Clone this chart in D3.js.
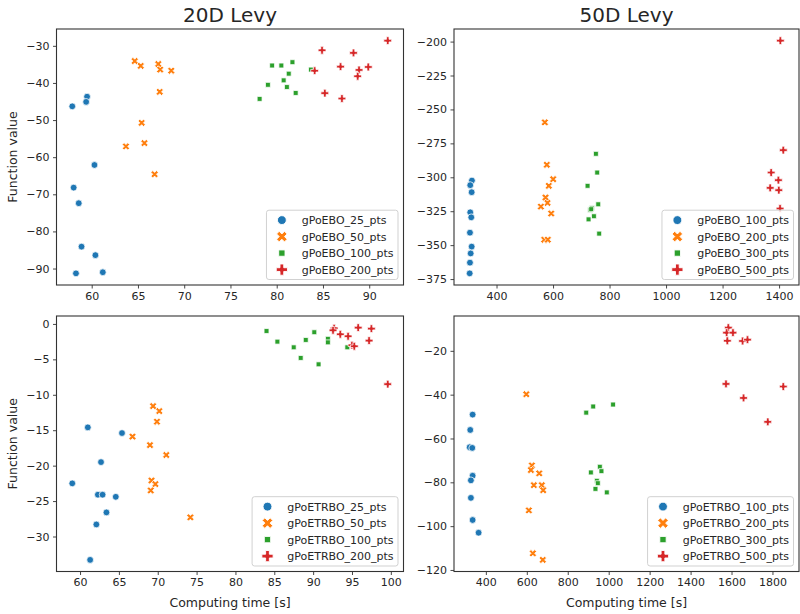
<!DOCTYPE html>
<html>
<head>
<meta charset="utf-8">
<script src="https://cdn.jsdelivr.net/npm/d3@7"></script>
<style>
  body { margin: 0; background: #fff; }
  text { font-family: "DejaVu Sans", sans-serif; fill: #262626; }
</style>
</head>
<body>
<div id="chart"></div>
<script>
// ---- data: [computing time (s), function value] per run ----
var ebo20_25 = [[59.5,-43.7],[59.4,-45.1],[57.9,-46.3],[60.3,-62.1],[58.05,-68.2],[58.6,-72.4],[58.9,-84.1],[60.4,-86.4],[58.3,-91.3],[61.2,-91.0]];
var ebo20_50 = [[64.65,-34.1],[65.3,-35.4],[67.2,-34.9],[67.4,-36.4],[68.6,-36.7],[67.35,-42.4],[65.4,-50.75],[63.7,-57.1],[65.7,-56.2],[66.8,-64.6]];
var ebo20_100 = [[79.5,-35.3],[80.5,-35.3],[81.7,-34.4],[81.3,-37.5],[80.75,-39.3],[79.05,-40.5],[81.1,-41.1],[82.05,-42.7],[78.15,-44.3],[83.7,-36.4]];
var ebo20_200 = [[84.9,-31.2],[88.3,-31.9],[92.0,-28.6],[84.1,-36.7],[86.9,-35.6],[88.9,-36.5],[89.9,-35.7],[88.75,-38.2],[85.2,-42.75],[87.05,-44.2]];

var ebo50_100 = [[313,-302.4],[307,-305.8],[312,-311],[307,-325.8],[310.6,-329.5],[306,-340.8],[312,-351.1],[308.5,-356.1],[306,-362.9],[305,-370.8]];
var ebo50_200 = [[571,-259.5],[578,-290.8],[600.5,-301.4],[585,-306.3],[573.4,-314.9],[580.4,-318.9],[557,-321.6],[593.5,-326.7],[569,-346],[581.5,-346]];
var ebo50_300 = [[751.7,-282.7],[756.3,-296.5],[722.2,-306.3],[760,-319.9],[737.7,-322.6],[731.7,-324.1],[744.7,-328.7],[725.7,-331],[763.3,-341.5],[735,-323.5]];
var ebo50_500 = [[1404.6,-199.3],[1415,-280],[1372,-296.5],[1397.6,-302.1],[1368.5,-307.8],[1399,-309.5],[1403.5,-323]];

var etr20_25 = [[61.0,-14.6],[65.4,-15.4],[62.7,-19.5],[59.0,-22.5],[62.3,-24.1],[62.9,-24.1],[64.6,-24.4],[63.4,-26.6],[62.1,-28.3],[61.3,-33.3]];
var etr20_50 = [[69.4,-11.6],[70.2,-12.3],[69.9,-13.8],[66.75,-15.9],[69.0,-17.1],[71.1,-18.5],[69.2,-22.1],[69.7,-22.6],[69.1,-23.5],[74.2,-27.3]];
var etr20_100 = [[84.0,-1.0],[85.4,-2.5],[87.5,-3.3],[88.4,-4.8],[89.05,-2.26],[90.15,-1.17],[90.7,-5.7],[91.9,-2.1],[91.9,-2.6],[94.4,-3.3]];
var etr20_200 = [[92.7,-0.6],[92.56,-0.9],[93.5,-1.46],[94.5,-1.74],[95.8,-0.52],[97.5,-0.66],[97.2,-2.35],[95.0,-3.0],[95.3,-3.15],[99.6,-8.5]];

var etr50_100 = [[335.4,-49.1],[323.8,-56.1],[321,-64],[333.5,-64.3],[335.4,-77.0],[327,-79.1],[327,-87.1],[335.4,-97.2],[364.6,-103]];
var etr50_200 = [[597.6,-39.8],[624.8,-72.3],[620,-74.4],[660.7,-75.9],[634.5,-81.3],[673.3,-81.3],[680,-83.6],[610,-92.8],[629.6,-112.4],[678,-115.4]];
var etr50_300 = [[890.3,-48.2],[924.3,-45.4],[1021.4,-44.5],[913,-75.5],[956.8,-72.9],[964.6,-74.9],[942.2,-79.3],[947,-80.4],[935.4,-83],[990.8,-84.6]];
var etr50_500 = [[1584.5,-9.4],[1576,-11.7],[1607,-11.7],[1579.6,-15.4],[1654,-15.5],[1678,-14.9],[1573,-35.1],[1853,-36.3],[1658.7,-41.5],[1777,-52.4]];

var ebo20Names = ["gPoEBO_25_pts", "gPoEBO_50_pts", "gPoEBO_100_pts", "gPoEBO_200_pts"];
var ebo50Names = ["gPoEBO_100_pts", "gPoEBO_200_pts", "gPoEBO_300_pts", "gPoEBO_500_pts"];
var etr20Names = ["gPoETRBO_25_pts", "gPoETRBO_50_pts", "gPoETRBO_100_pts", "gPoETRBO_200_pts"];
var etr50Names = ["gPoETRBO_100_pts", "gPoETRBO_200_pts", "gPoETRBO_300_pts", "gPoETRBO_500_pts"];

var xTicks20a = [60, 65, 70, 75, 80, 85, 90];
var yTicks20a = [-30, -40, -50, -60, -70, -80, -90];
var xTicks50a = [400, 600, 800, 1000, 1200, 1400];
var yTicks50a = [-200, -225, -250, -275, -300, -325, -350, -375];
var xTicks20b = [60, 65, 70, 75, 80, 85, 90, 95, 100];
var yTicks20b = [0, -5, -10, -15, -20, -25, -30];
var xTicks50b = [400, 600, 800, 1000, 1200, 1400, 1600, 1800];
var yTicks50b = [-20, -40, -60, -80, -100, -120];

var titles = ["20D Levy", "50D Levy"];
var xLabel = "Computing time [s]";
var yLabel = "Function value";

// ---- layout ----
var width = 800, height = 614;
var colors = ["#1f77b4", "#ff7f0e", "#2ca02c", "#d62728"];
var shapes = ["circle", "x", "square", "plus"];

var panels = [
  {left: 56.5, right: 403.5, top: 29, bottom: 285, groups: [ebo20_25, ebo20_50, ebo20_100, ebo20_200], names: ebo20Names, xt: xTicks20a, yt: yTicks20a, title: titles[0], ylab: true},
  {left: 454, right: 799, top: 29, bottom: 285, groups: [ebo50_100, ebo50_200, ebo50_300, ebo50_500], names: ebo50Names, xt: xTicks50a, yt: yTicks50a, title: titles[1]},
  {left: 56.5, right: 403.5, top: 316, bottom: 571.5, groups: [etr20_25, etr20_50, etr20_100, etr20_200], names: etr20Names, xt: xTicks20b, yt: yTicks20b, ylab: true, xlab: true},
  {left: 454, right: 799, top: 316, bottom: 571.5, groups: [etr50_100, etr50_200, etr50_300, etr50_500], names: etr50Names, xt: xTicks50b, yt: yTicks50b, xlab: true}
];

var svg = d3.select("#chart").append("svg")
  .attr("width", width)
  .attr("height", height);

function padded(ext) {
  var d = ext[1] - ext[0];
  return [ext[0] - 0.05 * d, ext[1] + 0.05 * d];
}

function drawMarker(sel, shape, big) {
  var path;
  if (shape == "circle") path = d3.symbol(d3.symbolCircle, big ? 62 : 36)();
  else if (shape == "square") path = d3.symbol(d3.symbolSquare, big ? 40 : 24)();
  else path = d3.symbol(d3.symbolCross, big ? 70 : 34)();
  var p = sel.append("path")
    .attr("d", path)
    .attr("stroke", "#fff")
    .attr("stroke-width", big ? 0.9 : 0.75);
  if (shape == "x") p.attr("transform", "rotate(45)");
  return p;
}

var fmt = d3.format("d");

panels.forEach(function(pn) {
  var all = d3.merge(pn.groups);
  var x = d3.scaleLinear()
    .domain(padded(d3.extent(all, function(d) { return d[0]; })))
    .range([pn.left, pn.right]);
  var y = d3.scaleLinear()
    .domain(padded(d3.extent(all, function(d) { return d[1]; })))
    .range([pn.bottom, pn.top]);

  var g = svg.append("g");

  // points
  pn.groups.forEach(function(grp, i) {
    grp.forEach(function(d) {
      var m = g.append("g")
        .attr("transform", "translate(" + x(d[0]) + "," + y(d[1]) + ")")
        .attr("fill", colors[i]);
      drawMarker(m, shapes[i], false);
    });
  });

  // axes
  var xa = g.append("g")
    .attr("transform", "translate(0," + pn.bottom + ")")
    .call(d3.axisBottom(x).tickValues(pn.xt).tickFormat(fmt).tickSize(3.5).tickSizeOuter(0).tickPadding(3.5));
  var ya = g.append("g")
    .attr("transform", "translate(" + pn.left + ",0)")
    .call(d3.axisLeft(y).tickValues(pn.yt).tickFormat(fmt).tickSize(3.5).tickSizeOuter(0).tickPadding(3.5));
  [xa, ya].forEach(function(a) {
    a.select(".domain").remove();
    a.selectAll(".tick line").attr("stroke", "#333").attr("stroke-width", 0.9);
    a.selectAll(".tick text").attr("font-size", 11).attr("fill", "#262626")
      .style("font-family", "DejaVu Sans, sans-serif");
  });

  // frame
  g.append("rect")
    .attr("x", pn.left).attr("y", pn.top)
    .attr("width", pn.right - pn.left).attr("height", pn.bottom - pn.top)
    .attr("fill", "none").attr("stroke", "#333").attr("stroke-width", 1.1);

  if (pn.title) {
    g.append("text")
      .attr("x", (pn.left + pn.right) / 2).attr("y", 22)
      .attr("text-anchor", "middle").attr("font-size", 20)
      .text(pn.title);
  }
  if (pn.ylab) {
    g.append("text")
      .attr("transform", "translate(17," + (pn.top + pn.bottom) / 2 + ") rotate(-90)")
      .attr("text-anchor", "middle").attr("font-size", 12.5)
      .text(yLabel);
  }
  if (pn.xlab) {
    g.append("text")
      .attr("x", (pn.left + pn.right) / 2).attr("y", 607)
      .attr("text-anchor", "middle").attr("font-size", 12.5)
      .text(xLabel);
  }

  // legend (lower right)
  var fs = 11, rowH = 16.5, bpad = 4.4;
  var leg = g.append("g");
  var box = leg.append("rect").attr("rx", 2.5)
    .attr("fill", "#fff").attr("fill-opacity", 0.8)
    .attr("stroke", "#ccc").attr("stroke-width", 0.9);
  var texts = [];
  pn.names.forEach(function(nm, i) {
    texts.push(leg.append("text").attr("font-size", fs).text(nm));
  });
  var tw = d3.max(texts, function(t) { return t.node().getComputedTextLength(); });
  var bw = bpad + 22 + 8.8 + tw + bpad;
  var bh = bpad * 2 + 4 * fs + 3 * (rowH - fs);
  var bx = pn.right - 5.5 - bw, by = pn.bottom - 5.5 - bh;
  box.attr("x", bx).attr("y", by).attr("width", bw).attr("height", bh);
  texts.forEach(function(t, i) {
    var cy = by + bpad + fs / 2 + i * rowH;
    t.attr("x", bx + bpad + 22 + 8.8).attr("y", cy + 4);
    var m = leg.append("g")
      .attr("transform", "translate(" + (bx + bpad + 11) + "," + cy + ")")
      .attr("fill", colors[i]);
    drawMarker(m, shapes[i], true);
  });
});
</script>
</body>
</html>
